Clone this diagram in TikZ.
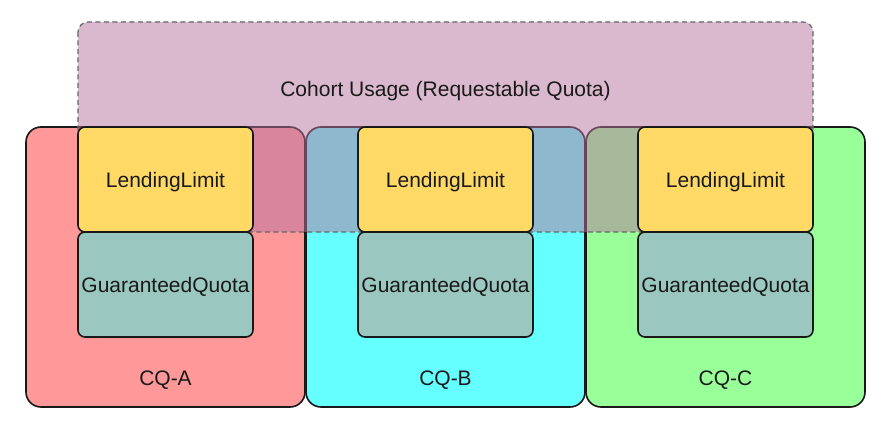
\documentclass[tikz,border=0pt]{standalone}
\usepackage{fontspec}
\setmainfont{Liberation Sans}
\begin{document}
\begin{tikzpicture}[x=1pt,y=-1pt,
  cqbox/.style={draw=black!90,line width=1.6pt,rounded corners=15pt},
  inbox/.style={draw=black!90,line width=1.6pt,rounded corners=7pt},
  lbl/.style={font=\fontsize{21}{24}\selectfont,text=black!90,yshift=-2.5pt}]
\useasboundingbox (0,0) rectangle (889,430);
% CQ boxes
\filldraw[cqbox,fill={rgb,255:red,255;green,153;blue,153}] (26,127) rectangle (305,407);
\filldraw[cqbox,fill={rgb,255:red,102;green,255;blue,255}] (306,127) rectangle (585,407);
\filldraw[cqbox,fill={rgb,255:red,153;green,255;blue,153}] (586,127) rectangle (865,407);
% cohort
\fill[fill={rgb,255:red,181;green,115;blue,157},fill opacity=0.5,rounded corners=10pt] (78,22) rectangle (813,232);
\draw[draw=black!60,line width=1.2pt,dash pattern=on 5pt off 3.5pt,rounded corners=10pt] (78,22) rectangle (813,232);
\node[lbl] (cohort) at (445.5,89) {Cohort Usage (Requestable Quota)};
% inner boxes
\foreach \x/\n in {78/a,358/b,638/c}{
  \filldraw[inbox,fill={rgb,255:red,255;green,217;blue,102}] (\x,127) rectangle ++(175,105);
  \filldraw[inbox,fill={rgb,255:red,154;green,199;blue,191}] (\x,232) rectangle ++(175,105);
  \node[lbl] (ll\n) at (\x+87.5,180) {LendingLimit};
  \node[lbl] (gq\n) at (\x+87.5,284) {GuaranteedQuota};
}
\node[lbl] (cqa) at (165.5,378) {CQ-A};
\node[lbl] (cqb) at (445.5,378) {CQ-B};
\node[lbl] (cqc) at (725.5,378) {CQ-C};
\end{tikzpicture}
\end{document}
